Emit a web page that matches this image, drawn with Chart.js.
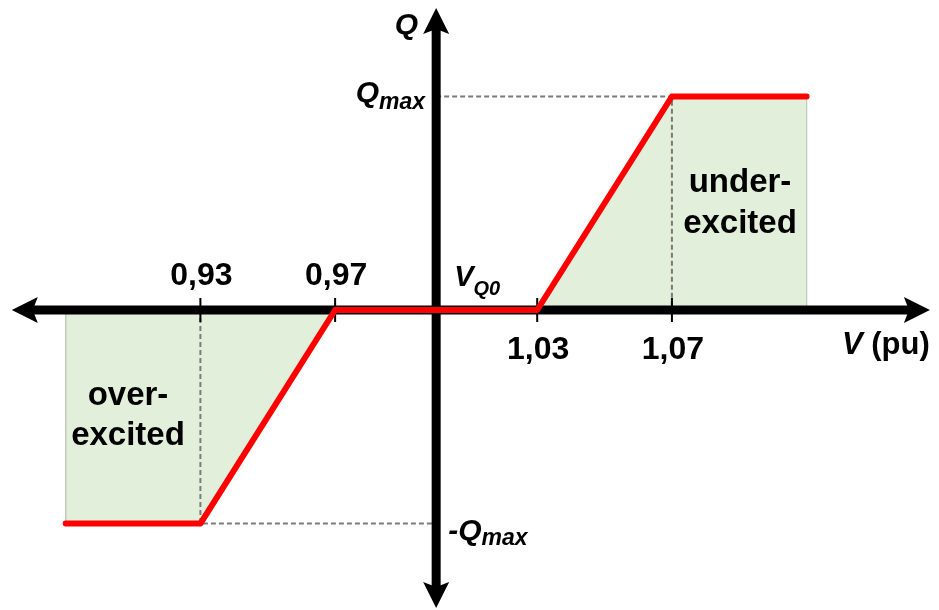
<!DOCTYPE html>
<html>
<head>
<meta charset="utf-8">
<script src="https://cdn.jsdelivr.net/npm/chart.js@4/dist/chart.umd.min.js"></script>
<style>
  html, body { margin: 0; padding: 0; background: #ffffff; }
  #wrap { width: 939px; height: 610px; }
</style>
</head>
<body>
<div id="wrap"><canvas id="qvChart" width="939" height="610"></canvas></div>
<script>
// Q(V) characteristic
const curveV = [0.89, 0.93, 0.97, 1.03, 1.07, 1.11];
const curveQ = [-1, -1, 0, 0, 1, 1];

const overFillV = [0.89, 0.89, 0.93, 0.97];
const overFillQ = [0, -1, -1, 0];
const underFillV = [1.03, 1.07, 1.11, 1.11];
const underFillQ = [0, 1, 1, 0];

const voltageTicks = [0.93, 0.97, 1.03, 1.07];
const tickLabels = ["0,93", "0,97", "1,03", "1,07"];

const AXIS_V = 1.0;
const V_RANGE = [0.8705, 1.1493];
const Q_RANGE = [-1.405, 1.452];
const ARROW_V = [0.874, 1.1466];
const ARROW_Q = [-1.396, 1.4145];

const FONT = "'Liberation Sans', Arial, sans-serif";
const FILL_GREEN = "#e2efda";

function toPoints(xs, ys) {
  return xs.map((x, i) => ({ x, y: ys[i] }));
}

function drawArrowHead(ctx, tipX, tipY, dirX, dirY) {
  const len = 26;
  const half = 13;
  const notch = 5;
  const px = -dirY;
  const py = dirX;
  ctx.beginPath();
  ctx.moveTo(tipX, tipY);
  ctx.lineTo(tipX - dirX * len + px * half, tipY - dirY * len + py * half);
  ctx.lineTo(tipX - dirX * (len - notch), tipY - dirY * (len - notch));
  ctx.lineTo(tipX - dirX * len - px * half, tipY - dirY * len - py * half);
  ctx.closePath();
  ctx.fill();
}

function drawAxes(chart) {
  const ctx = chart.ctx;
  const xs = chart.scales.x;
  const ys = chart.scales.y;
  const x0 = xs.getPixelForValue(AXIS_V);
  const y0 = ys.getPixelForValue(0);
  const left = xs.getPixelForValue(ARROW_V[0]);
  const right = xs.getPixelForValue(ARROW_V[1]);
  const top = ys.getPixelForValue(ARROW_Q[1]);
  const bottom = ys.getPixelForValue(ARROW_Q[0]);

  ctx.save();
  ctx.strokeStyle = "#000000";
  ctx.fillStyle = "#000000";
  ctx.lineWidth = 9;
  ctx.beginPath();
  ctx.moveTo(left + 20, y0);
  ctx.lineTo(right - 20, y0);
  ctx.moveTo(x0, top + 20);
  ctx.lineTo(x0, bottom - 20);
  ctx.stroke();

  drawArrowHead(ctx, left, y0, -1, 0);
  drawArrowHead(ctx, right, y0, 1, 0);
  drawArrowHead(ctx, x0, top, 0, -1);
  drawArrowHead(ctx, x0, bottom, 0, 1);

  ctx.lineWidth = 2;
  ctx.beginPath();
  voltageTicks.forEach((v) => {
    const px = xs.getPixelForValue(v);
    ctx.moveTo(px, y0 - 12);
    ctx.lineTo(px, y0 + 12);
  });
  ctx.stroke();
  ctx.restore();
}

function drawSubscripted(ctx, main, sub, x, y, mainSize, subSize, subDrop, align) {
  const mainFont = `italic bold ${mainSize}px ${FONT}`;
  const subFont = `italic bold ${subSize}px ${FONT}`;
  ctx.font = mainFont;
  const w1 = ctx.measureText(main).width;
  ctx.font = subFont;
  const w2 = ctx.measureText(sub).width;
  let startX = x;
  if (align === "right") {
    startX = x - w1 - w2;
  }
  ctx.textAlign = "left";
  ctx.font = mainFont;
  ctx.fillText(main, startX, y);
  ctx.font = subFont;
  ctx.fillText(sub, startX + w1, y + subDrop);
}

function drawLabels(chart) {
  const ctx = chart.ctx;
  const xs = chart.scales.x;
  const ys = chart.scales.y;
  const x0 = xs.getPixelForValue(AXIS_V);
  const y0 = ys.getPixelForValue(0);

  ctx.save();
  ctx.fillStyle = "#000000";
  ctx.textBaseline = "alphabetic";

  // tick labels: below zero above the axis, above zero below it
  ctx.font = `bold 32px ${FONT}`;
  ctx.textAlign = "center";
  voltageTicks.forEach((v, i) => {
    const px = xs.getPixelForValue(v);
    const py = v < AXIS_V ? y0 - 25 : y0 + 49;
    ctx.fillText(tickLabels[i], px + 1, py);
  });

  // axis titles
  ctx.font = `italic bold 30px ${FONT}`;
  ctx.textAlign = "right";
  ctx.fillText("Q", x0 - 18, 34);

  ctx.textAlign = "left";
  ctx.font = `italic bold 31px ${FONT}`;
  ctx.fillText("V", 842, 354);
  const vw = ctx.measureText("V").width;
  ctx.font = `bold 31px ${FONT}`;
  ctx.fillText(" (pu)", 842 + vw, 354);

  drawSubscripted(ctx, "Q", "max", x0 - 11, ys.getPixelForValue(1) + 5, 30, 23, 7, "right");
  drawSubscripted(ctx, "-Q", "max", x0 + 12, ys.getPixelForValue(-1) + 16, 30, 23, 5, "left");
  drawSubscripted(ctx, "V", "Q0", x0 + 18, y0 - 24, 29, 20, 9, "left");

  // region names
  ctx.font = `bold 33px ${FONT}`;
  ctx.textAlign = "center";
  ctx.fillText("over-", 128, 405);
  ctx.fillText("excited", 128, 445);
  ctx.fillText("under-", 740, 192);
  ctx.fillText("excited", 740, 233);
  ctx.restore();
}

const axesPlugin = {
  id: "qvAxes",
  beforeDatasetDraw(chart, args) {
    if (args.index === 0) {
      drawAxes(chart);
    }
  },
  afterDraw(chart) {
    drawLabels(chart);
  }
};

function buildChart() {
  const ctx = document.getElementById("qvChart");
  const guideLow = [
    { x: curveV[1], y: 0 },
    { x: curveV[1], y: curveQ[1] },
    { x: AXIS_V, y: curveQ[1] }
  ];
  const guideHigh = [
    { x: AXIS_V, y: curveQ[4] },
    { x: curveV[4], y: curveQ[4] },
    { x: curveV[4], y: 0 }
  ];

  return new Chart(ctx, {
    type: "scatter",
    data: {
      datasets: [
        {
          label: "Q(V)",
          data: toPoints(curveV, curveQ),
          showLine: true,
          borderColor: "#ff0000",
          borderWidth: 6,
          borderCapStyle: "round",
          borderJoinStyle: "round",
          pointRadius: 0,
          fill: false,
          order: 0
        },
        {
          label: "guide low",
          data: guideLow,
          showLine: true,
          borderColor: "#7a7a7a",
          borderWidth: 2,
          borderDash: [5, 3],
          pointRadius: 0,
          fill: false,
          order: 1
        },
        {
          label: "guide high",
          data: guideHigh,
          showLine: true,
          borderColor: "#7a7a7a",
          borderWidth: 2,
          borderDash: [5, 3],
          pointRadius: 0,
          fill: false,
          order: 1
        },
        {
          label: "over-excited",
          data: toPoints(overFillV, overFillQ),
          showLine: true,
          borderColor: "#c3ccbd",
          borderWidth: 1,
          backgroundColor: FILL_GREEN,
          pointRadius: 0,
          fill: "origin",
          order: 2
        },
        {
          label: "under-excited",
          data: toPoints(underFillV, underFillQ),
          showLine: true,
          borderColor: "#c3ccbd",
          borderWidth: 1,
          backgroundColor: FILL_GREEN,
          pointRadius: 0,
          fill: "origin",
          order: 2
        }
      ]
    },
    options: {
      responsive: false,
      animation: false,
      devicePixelRatio: 1,
      layout: { padding: 0 },
      plugins: {
        legend: { display: false },
        tooltip: { enabled: false }
      },
      scales: {
        x: { type: "linear", display: false, min: V_RANGE[0], max: V_RANGE[1] },
        y: { type: "linear", display: false, min: Q_RANGE[0], max: Q_RANGE[1] }
      }
    },
    plugins: [axesPlugin]
  });
}

buildChart();
</script>
</body>
</html>
